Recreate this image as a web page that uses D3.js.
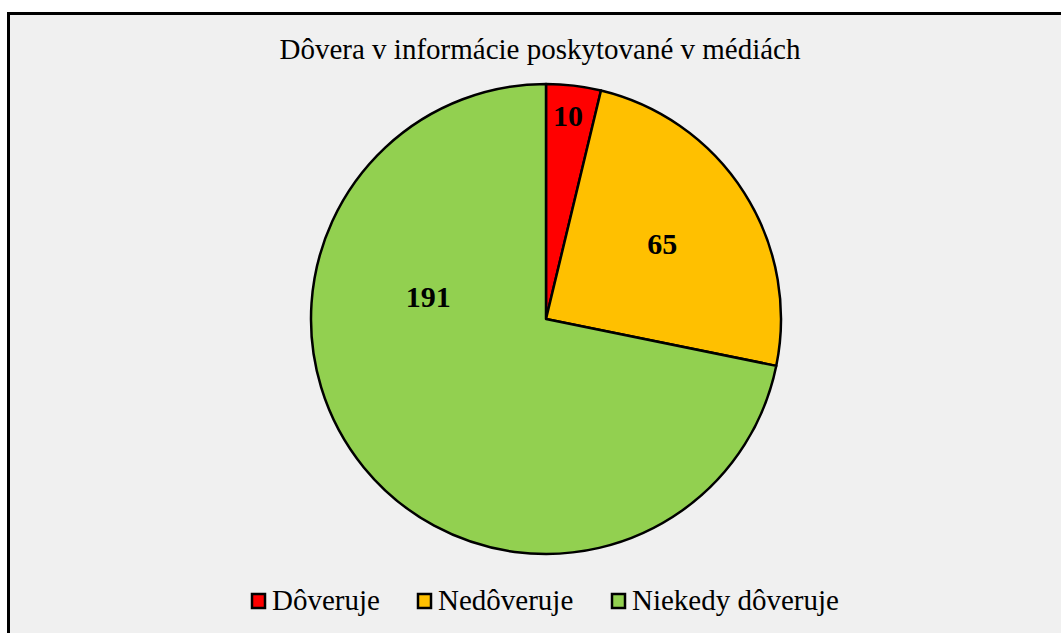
<!DOCTYPE html>
<html>
<head>
<meta charset="utf-8">
<script src="https://cdn.jsdelivr.net/npm/d3@7"></script>
<style>
  body { margin: 0; background: #fff; }
  text { font-family: "Liberation Serif", "Times New Roman", serif; }
</style>
</head>
<body>
<script>
var width = 1061,
    height = 633;

// data
var categories = ["Dôveruje", "Nedôveruje", "Niekedy dôveruje"];
var values = [10, 65, 191];
var colors = ["#ff0000", "#ffc000", "#92d050"];
var title = "Dôvera v informácie poskytované v médiách";

// where excel put the data labels (angle in degrees, radius as fraction)
var labelAngle = [6.2, 57, 280.6];
var labelRadius = [0.87, 0.59, 0.51];

var svg = d3.select("body").append("svg")
    .attr("width", width)
    .attr("height", height);

svg.append("rect")
    .attr("x", 8.5)
    .attr("y", 13.5)
    .attr("width", 1100)
    .attr("height", 700)
    .attr("fill", "#f0f0f0")
    .attr("stroke", "black")
    .attr("stroke-width", 3);

svg.append("text")
    .attr("x", 540)
    .attr("y", 59)
    .attr("text-anchor", "middle")
    .attr("font-size", "29px")
    .attr("fill", "#000")
    .text(title);

var cx = 546, cy = 319, r = 235;

var pie = d3.pie().sort(null).value(d => d);
var arc = d3.arc().innerRadius(0).outerRadius(r);

var g = svg.append("g").attr("transform", "translate(" + cx + "," + cy + ")");

g.selectAll("path")
    .data(pie(values))
    .enter()
    .append("path")
    .attr("d", arc)
    .attr("fill", (d, i) => colors[i])
    .attr("stroke", "black")
    .attr("stroke-width", 2.5)
    .attr("stroke-linejoin", "round");

g.selectAll("text.lbl")
    .data(values)
    .enter()
    .append("text")
    .attr("class", "lbl")
    .attr("x", (d, i) => Math.sin(labelAngle[i] * Math.PI / 180) * r * labelRadius[i])
    .attr("y", (d, i) => -Math.cos(labelAngle[i] * Math.PI / 180) * r * labelRadius[i])
    .attr("dy", "0.35em")
    .attr("text-anchor", "middle")
    .attr("font-size", "30px")
    .attr("font-weight", "bold")
    .text(d => d);

// legend
var legendX = [252, 418, 612];
var leg = svg.selectAll("g.leg")
    .data(categories)
    .enter()
    .append("g")
    .attr("class", "leg")
    .attr("transform", (d, i) => "translate(" + legendX[i] + ",601)");

leg.append("rect")
    .attr("x", 0)
    .attr("y", -7)
    .attr("width", 13)
    .attr("height", 14)
    .attr("fill", (d, i) => colors[i])
    .attr("stroke", "black")
    .attr("stroke-width", 2.5);

leg.append("text")
    .attr("x", 20)
    .attr("y", 9)
    .attr("font-size", "29px")
    .text(d => d);
</script>
</body>
</html>
